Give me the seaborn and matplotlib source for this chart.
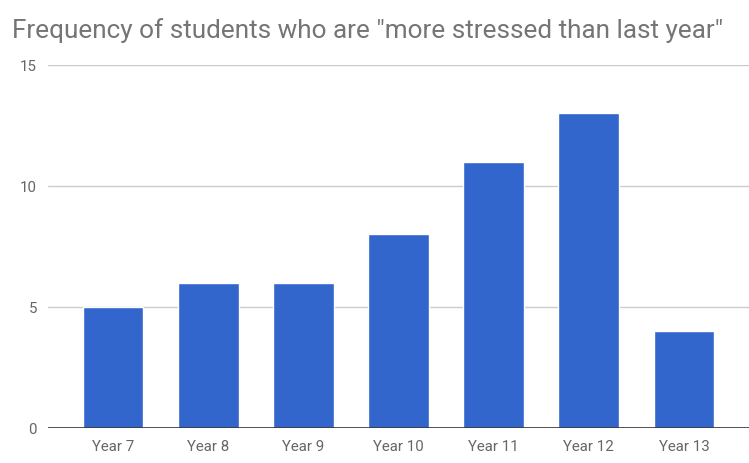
import matplotlib
matplotlib.use("Agg")
import matplotlib.pyplot as plt
import seaborn as sns
import pandas as pd

years = ["Year 7", "Year 8", "Year 9", "Year 10", "Year 11", "Year 12", "Year 13"]
counts = [5, 6, 6, 8, 11, 13, 4]
y_ticks = [0, 5, 10, 15]

sns.set_theme(style="white")
plt.rcParams["font.family"] = ["Roboto", "DejaVu Sans"]

df = pd.DataFrame({"year": years, "count": counts})

W, H = 749, 464
fig = plt.figure(figsize=(W / 100, H / 100), dpi=100)
ax = fig.add_axes([48 / W, 1 - 429 / H, 1 - 48 / W, (429 - 66) / H])

sns.barplot(data=df, x="year", y="count", color="#3366cc", saturation=1,
            width=0.64, ax=ax, zorder=3)

ax.set_ylim(0, 15)
ax.set_xlim(-0.683, 6.683)
ax.set_yticks(y_ticks)
ax.set_yticklabels([str(t) for t in y_ticks])
ax.set_xlabel("")
ax.set_ylabel("")

for y in y_ticks[1:]:
    ax.axhline(y, color="#cccccc", lw=1, zorder=1)
ax.axhline(0, color="#333333", lw=1.2, zorder=4)

for s in ax.spines.values():
    s.set_visible(False)

ax.tick_params(axis="both", length=0, labelsize=10.8, labelcolor="#666666")
ax.tick_params(axis="y", pad=8)
ax.tick_params(axis="x", pad=8)

fig.text(12 / W, 1 - 31 / H, 'Frequency of students who are "more stressed than last year"',
         fontsize=18.8, color="#757575", va="center", ha="left")

fig.savefig("out.png", dpi=100)
